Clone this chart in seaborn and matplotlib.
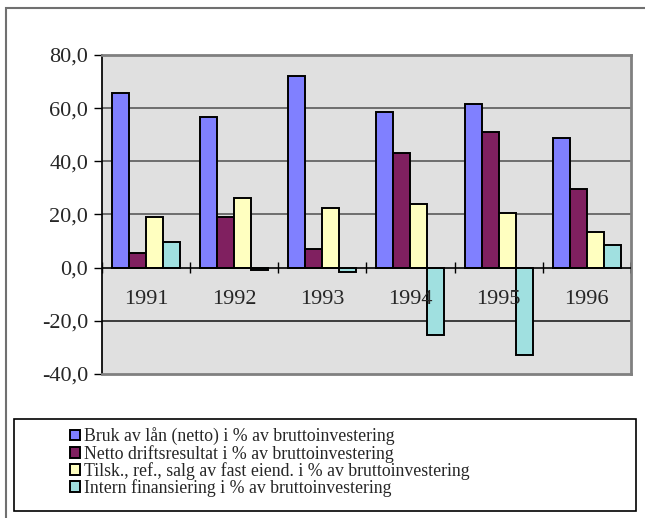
import numpy as np
import pandas as pd
import matplotlib
matplotlib.use("Agg")
import matplotlib.pyplot as plt
from matplotlib.patches import Rectangle
import seaborn as sns

# data
years = ["1991", "1992", "1993", "1994", "1995", "1996"]
series = [
    "Bruk av lån (netto) i % av bruttoinvestering",
    "Netto driftsresultat i % av bruttoinvestering",
    "Tilsk., ref., salg av fast eiend. i % av bruttoinvestering",
    "Intern finansiering i % av bruttoinvestering",
]
bruk_laan = [65.8, 56.6, 72.2, 58.7, 61.6, 48.8]
netto_drift = [5.5, 19.0, 7.0, 43.1, 51.0, 29.7]
tilskudd = [18.9, 26.2, 22.5, 23.9, 20.4, 13.3]
intern_fin = [9.8, -0.8, -1.5, -25.5, -32.8, 8.4]
yticks = [-40, -20, 0, 20, 40, 60, 80]

palette = ["#8080FF", "#802060", "#FFFFC0", "#A0E0E0"]

df = pd.DataFrame({
    "year": years * 4,
    "series": np.repeat(series, len(years)),
    "value": bruk_laan + netto_drift + tilskudd + intern_fin,
})

sns.set_theme(style="white")
plt.rcParams["font.family"] = ["Liberation Serif", "DejaVu Serif"]

fig = plt.figure(figsize=(6.45, 5.18), dpi=100)
ax = fig.add_axes([0.158, 0.278, 0.82, 0.616])
ax.set_facecolor("#E0E0E0")

sns.barplot(data=df, x="year", y="value", hue="series", hue_order=series,
            palette=palette, width=0.77, edgecolor="black", linewidth=1.4,
            saturation=1, ax=ax, legend=True)

ax.set_ylim(-40, 80)
ax.set_xlim(-0.5, len(years) - 0.5)
ax.set_yticks(yticks)
ax.set_yticklabels([f"{v:.1f}".replace(".", ",") for v in yticks], fontsize=16)
ax.tick_params(axis="y", length=6, width=1, color="black", direction="out", pad=4, left=True)
ax.set_xticks([])
ax.set_xlabel("")
ax.set_ylabel("")

for v in yticks[1:-1]:
    if v == 0:
        continue
    ax.axhline(v, color="#5A5A5A" if v > 0 else "#202020", lw=1.2, zorder=0)
ax.axhline(0, color="black", lw=1.2, zorder=3)

# category separator ticks on the zero line
bounds = np.arange(len(years) + 1) - 0.5
ax.vlines(bounds, -2.2, 2.0, color="black", lw=1, zorder=3)

# category labels just below the zero line
for i, yr in enumerate(years):
    ax.annotate(yr, xy=(i, 0), xytext=(0, -23), textcoords="offset points",
                ha="center", va="center", fontsize=16, zorder=4)

for side in ["top", "right"]:
    ax.spines[side].set_color("#808080")
    ax.spines[side].set_linewidth(2)
ax.spines["left"].set_color("black")
ax.spines["bottom"].set_color("#808080")
ax.spines["bottom"].set_linewidth(2)

# legend inside a separate box
handles, labels = ax.get_legend_handles_labels()
ax.get_legend().remove()
fig.patches.append(Rectangle((14 / 645, 7 / 518), 622 / 645, 92 / 518,
                             transform=fig.transFigure, fill=False,
                             edgecolor="black", lw=1.2))
fig.legend(handles, labels, loc="upper left", bbox_to_anchor=(58 / 645, 1 - 415 / 518),
           frameon=False, fontsize=12.8, handlelength=0.56, handleheight=0.56,
           handletextpad=0.2, labelspacing=-0.04, borderpad=0.2)

# outer chart border
fig.patches.append(Rectangle((6 / 645, -0.05), 2, 1 - 8 / 518 + 0.05,
                             transform=fig.transFigure, fill=False,
                             edgecolor="#707070", lw=1.5))

fig.savefig("out.png", dpi=100)
